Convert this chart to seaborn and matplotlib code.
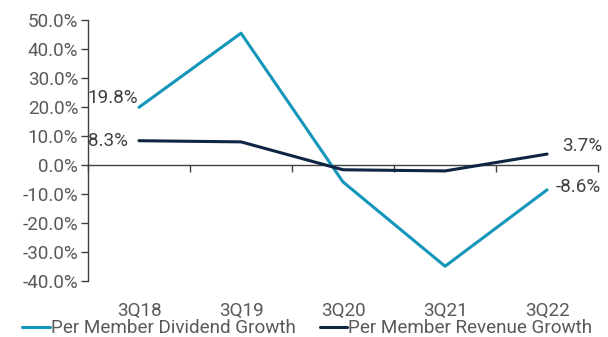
import matplotlib
matplotlib.use("Agg")
import matplotlib.pyplot as plt
import seaborn as sns
import pandas as pd

quarters = ["3Q18", "3Q19", "3Q20", "3Q21", "3Q22"]
dividend_growth = [19.8, 45.3, -5.9, -34.9, -8.6]
revenue_growth = [8.3, 7.9, -1.7, -2.1, 3.7]
series_names = ["Per Member Dividend Growth", "Per Member Revenue Growth"]
series_colors = ["#1496ba", "#0d2542"]

df = pd.DataFrame({
    "Quarter": quarters * 2,
    "Growth": dividend_growth + revenue_growth,
    "Series": [series_names[0]] * len(quarters) + [series_names[1]] * len(quarters),
})

sns.set_theme(style="white")
plt.rcParams["font.family"] = ["Roboto", "DejaVu Sans"]

fs = 13.6
fig = plt.figure(figsize=(6.08, 3.37), dpi=100)
ax = fig.add_axes([0.1447, 0.166, 0.839, 0.776])

sns.lineplot(data=df, x="Quarter", y="Growth", hue="Series",
             palette=dict(zip(series_names, series_colors)),
             linewidth=2.2, ax=ax, sort=False)

ymin, ymax = -40, 50
ax.set_ylim(ymin, ymax)
ax.set_xlim(-0.5, len(quarters) - 0.5)
ax.set_yticks(range(ymin, ymax + 1, 10))
ax.set_yticklabels([f"{v:.1f}%" for v in range(ymin, ymax + 1, 10)])
ax.set_xlabel("")
ax.set_ylabel("")

gray = "#595959"
for s in ["top", "right", "bottom"]:
    ax.spines[s].set_visible(False)
ax.spines["left"].set_color("#404040")
ax.spines["left"].set_linewidth(1.0)
ax.tick_params(axis="y", length=5, width=1, color="#404040", direction="out",
               labelsize=fs, labelcolor=gray, pad=2, left=True)
ax.tick_params(axis="x", length=0, labelsize=fs, labelcolor=gray, pad=15)

# zero line with category divider ticks
zero_frac = -ymin / (ymax - ymin)
sec = ax.secondary_xaxis(zero_frac)
sec.set_xticks([i - 0.5 for i in range(len(quarters) + 1)])
sec.set_xticklabels([])
sec.spines["bottom"].set_color("#404040")
sec.spines["bottom"].set_linewidth(1.0)
sec.tick_params(axis="x", length=5, width=1, color="#404040", direction="out")

# value labels at the first and last points
lbl = dict(fontsize=fs, color="#404040")
ax.annotate(f"{dividend_growth[0]:.1f}%", (0, dividend_growth[0]),
            xytext=(-1, 7), textcoords="offset points", ha="right", va="center", **lbl)
ax.annotate(f"{revenue_growth[0]:.1f}%", (0, revenue_growth[0]),
            xytext=(-8, 0), textcoords="offset points", ha="right", va="center", **lbl)
ax.annotate(f"{revenue_growth[-1]:.1f}%", (4, revenue_growth[-1]),
            xytext=(11, 6), textcoords="offset points", ha="left", va="center", **lbl)
ax.annotate(f"{dividend_growth[-1]:.1f}%", (4, dividend_growth[-1]),
            xytext=(6, 2), textcoords="offset points", ha="left", va="center", **lbl)

leg = ax.legend(loc="center", bbox_to_anchor=(0.43, -0.18), ncol=2,
                frameon=False, fontsize=fs, handlelength=1.45, handletextpad=0.05,
                columnspacing=1.3, borderaxespad=0, borderpad=0)
for t in leg.get_texts():
    t.set_color(gray)

fig.savefig("out.png", dpi=100)
